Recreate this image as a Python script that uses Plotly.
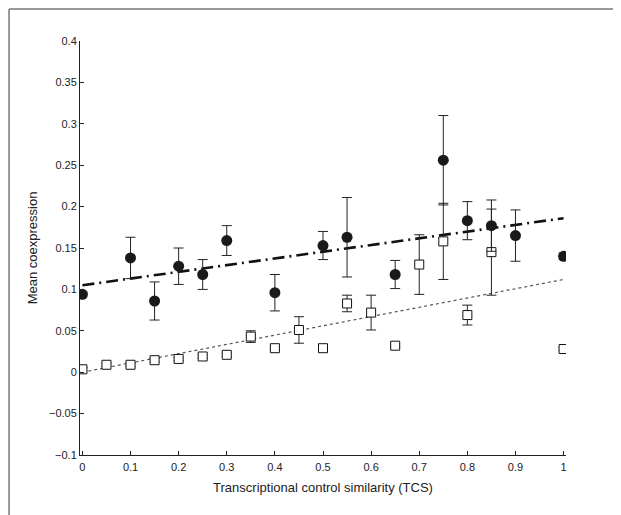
import plotly.graph_objects as go

# Filled circles series
circ_x = [0, 0.1, 0.15, 0.2, 0.25, 0.3, 0.4, 0.5, 0.55, 0.65, 0.75, 0.8, 0.85, 0.9, 1.0]
circ_y = [0.094, 0.138, 0.086, 0.128, 0.118, 0.159, 0.096, 0.153, 0.163, 0.118, 0.256, 0.183, 0.177, 0.165, 0.140]
circ_err = [0.003, 0.025, 0.023, 0.022, 0.018, 0.018, 0.022, 0.017, 0.048, 0.017, 0.054, 0.023, 0.031, 0.031, 0.004]

# Open squares series
sq_x = [0, 0.05, 0.1, 0.15, 0.2, 0.25, 0.3, 0.35, 0.4, 0.45, 0.5, 0.55, 0.6, 0.65, 0.7, 0.75, 0.8, 0.85, 1.0]
sq_y = [0.0035, 0.009, 0.009, 0.0145, 0.016, 0.019, 0.021, 0.043, 0.029, 0.051, 0.029, 0.083, 0.072, 0.032, 0.130, 0.158, 0.069, 0.145, 0.028]
sq_err = [0.002, 0.002, 0.002, 0.002, 0.002, 0.002, 0.002, 0.007, 0.002, 0.016, 0.002, 0.010, 0.021, 0.002, 0.036, 0.046, 0.012, 0.052, 0.002]

# Linear fits (endpoints)
fit_x = [0, 1]
fit_circ = [0.105, 0.186]
fit_sq = [0.0, 0.112]

x_ticks = [0, 0.1, 0.2, 0.3, 0.4, 0.5, 0.6, 0.7, 0.8, 0.9, 1]
x_labels = ["0", "0.1", "0.2", "0.3", "0.4", "0.5", "0.6", "0.7", "0.8", "0.9", "1"]
y_ticks = [-0.1, -0.05, 0, 0.05, 0.1, 0.15, 0.2, 0.25, 0.3, 0.35, 0.4]
y_labels = ["\u22120.1", "\u22120.05", "0", "0.05", "0.1", "0.15", "0.2", "0.25", "0.3", "0.35", "0.4"]

FONT = "Liberation Sans, Arial, Helvetica, sans-serif"

fig = go.Figure()

fig.add_trace(go.Scatter(
    x=fit_x, y=fit_sq, mode="lines",
    line=dict(color="#555555", width=1.2, dash="dot"),
    showlegend=False, hoverinfo="skip"))
fig.add_trace(go.Scatter(
    x=fit_x, y=fit_circ, mode="lines",
    line=dict(color="#111111", width=2.6, dash="12px,5px,2px,5px"),
    showlegend=False, hoverinfo="skip"))

fig.add_trace(go.Scatter(
    x=sq_x, y=sq_y, mode="markers",
    marker=dict(symbol="square", size=9, color="white",
                line=dict(color="#111111", width=1)),
    error_y=dict(type="data", array=sq_err, visible=True,
                 color="#222222", thickness=1, width=5),
    showlegend=False))

fig.add_trace(go.Scatter(
    x=circ_x, y=circ_y, mode="markers",
    marker=dict(symbol="circle", size=11, color="#1a1a1a",
                line=dict(color="#1a1a1a", width=0)),
    error_y=dict(type="data", array=circ_err, visible=True,
                 color="#222222", thickness=1, width=5),
    showlegend=False))

# outer frame: only top and left edges are visible in the picture
fig.add_shape(type="line", xref="paper", yref="paper",
              x0=-0.146, x1=1.3, y0=1.077, y1=1.077,
              line=dict(color="#777777", width=1.5), layer="below")
fig.add_shape(type="line", xref="paper", yref="paper",
              x0=-0.146, x1=-0.146, y0=-0.3, y1=1.077,
              line=dict(color="#777777", width=1.5), layer="below")

fig.update_layout(
    width=621, height=515,
    margin=dict(l=72, r=63, t=33, b=68),
    paper_bgcolor="white", plot_bgcolor="white",
    font=dict(family=FONT, size=11, color="#222222"),
    xaxis=dict(range=[-0.005, 1.005], tickvals=x_ticks, ticktext=x_labels,
               ticks="inside", ticklen=4, tickcolor="#222222",
               showline=True, linecolor="#222222", linewidth=1,
               showgrid=False, zeroline=False, mirror=False,
               tickfont=dict(size=11), ticklabelstandoff=2,
               title=dict(text="Transcriptional control similarity (TCS)",
                          font=dict(size=13), standoff=10)),
    yaxis=dict(range=[-0.1, 0.4], tickvals=y_ticks, ticktext=y_labels,
               ticks="inside", ticklen=4, tickcolor="#222222",
               showline=True, linecolor="#222222", linewidth=1,
               showgrid=False, zeroline=False, mirror=False,
               tickfont=dict(size=11),
               title=dict(text="Mean coexpression", font=dict(size=13), standoff=8)),
)

fig.write_html("out.html")
